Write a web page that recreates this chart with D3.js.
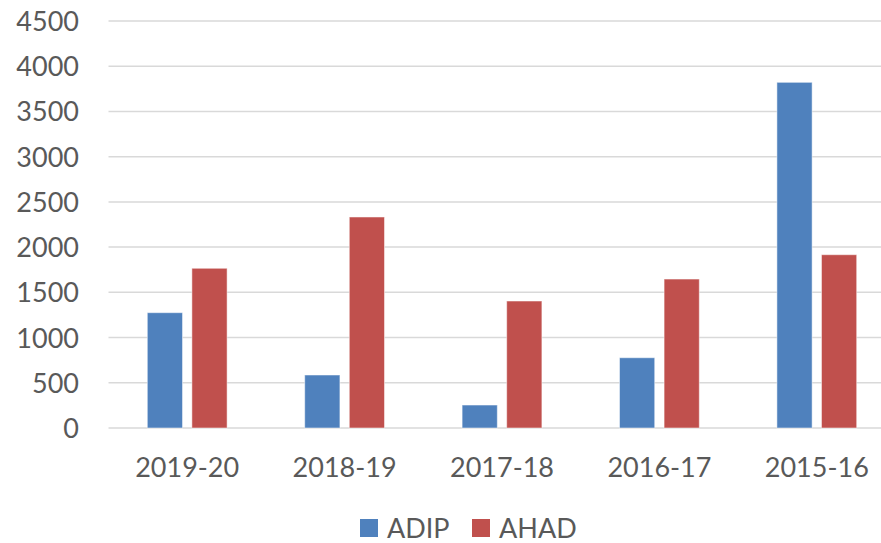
<!DOCTYPE html>
<html><head><meta charset="utf-8">
<script src="https://cdn.jsdelivr.net/npm/d3@7"></script>
<style>body{margin:0;background:#fff}svg{display:block}text{font-family:Lato,"Open Sans",sans-serif;fill:#595959}</style>
</head><body>
<script>
const categories = ["2019-20","2018-19","2017-18","2016-17","2015-16"];
const seriesNames = ["ADIP","AHAD"];
const adip = [1275, 586, 254, 777, 3822];
const ahad = [1766, 2333, 1404, 1647, 1916];
const yTicks = [0,500,1000,1500,2000,2500,3000,3500,4000,4500];
const colors = ["#4F81BD","#C0504D"];

const W = 881, H = 543;
const svg = d3.select("body").append("svg").attr("width", W).attr("height", H);
const x = d3.scaleBand().domain(categories).range([108.5, 895.5]).paddingInner(0).paddingOuter(0);
const y = d3.scaleLinear().domain([0, 4500]).range([428, 21]);
const xs = d3.scaleBand().domain(seriesNames).range([38.8, x.bandwidth() - 38.8]).paddingInner(0.21);

// gridlines
svg.append("g").selectAll("line").data(yTicks).join("line")
  .attr("x1", 108.5).attr("x2", W).attr("y1", d => y(d)).attr("y2", d => y(d))
  .attr("stroke", "#D9D9D9").attr("stroke-width", 1.5);

// y axis labels
const yAxis = d3.axisLeft(y).tickValues(yTicks).tickSize(0).tickPadding(0).tickFormat(d3.format("d"));
const ga = svg.append("g").attr("transform", "translate(79,0)").call(yAxis);
ga.select(".domain").remove();
ga.selectAll("text").attr("font-size", 27).attr("font-family", "Lato").attr("fill", "#595959").attr("dy", "0.35em");

// x axis labels
const xAxis = d3.axisBottom(x).tickSize(0).tickPadding(0);
const gx = svg.append("g").attr("transform", "translate(0,458)").call(xAxis);
gx.select(".domain").remove();
gx.selectAll("text").attr("font-size", 27).attr("font-family", "Lato").attr("fill", "#595959").attr("dy", "0.71em");

// bars
const data = [adip, ahad];
const groups = svg.append("g").selectAll("g").data(categories).join("g")
  .attr("transform", d => `translate(${x(d)},0)`);
groups.selectAll("rect").data((c, i) => seriesNames.map((s, j) => ({s, v: data[j][i], j})))
  .join("rect")
  .attr("x", d => xs(d.s)).attr("width", xs.bandwidth())
  .attr("y", d => y(d.v)).attr("height", d => y(0) - y(d.v))
  .attr("fill", d => colors[d.j]).attr("stroke", "#fff").attr("stroke-opacity", 0.5).attr("stroke-width", 1);

// legend
const legX = [360, 472];
const lg = svg.append("g").selectAll("g").data(seriesNames).join("g")
  .attr("transform", (d, i) => `translate(${legX[i]},519)`);
lg.append("rect").attr("width", 18).attr("height", 18).attr("fill", (d, i) => colors[i]);
lg.append("text").attr("x", 27).attr("y", 19).attr("font-size", 27).text(d => d);
</script>
</body></html>
